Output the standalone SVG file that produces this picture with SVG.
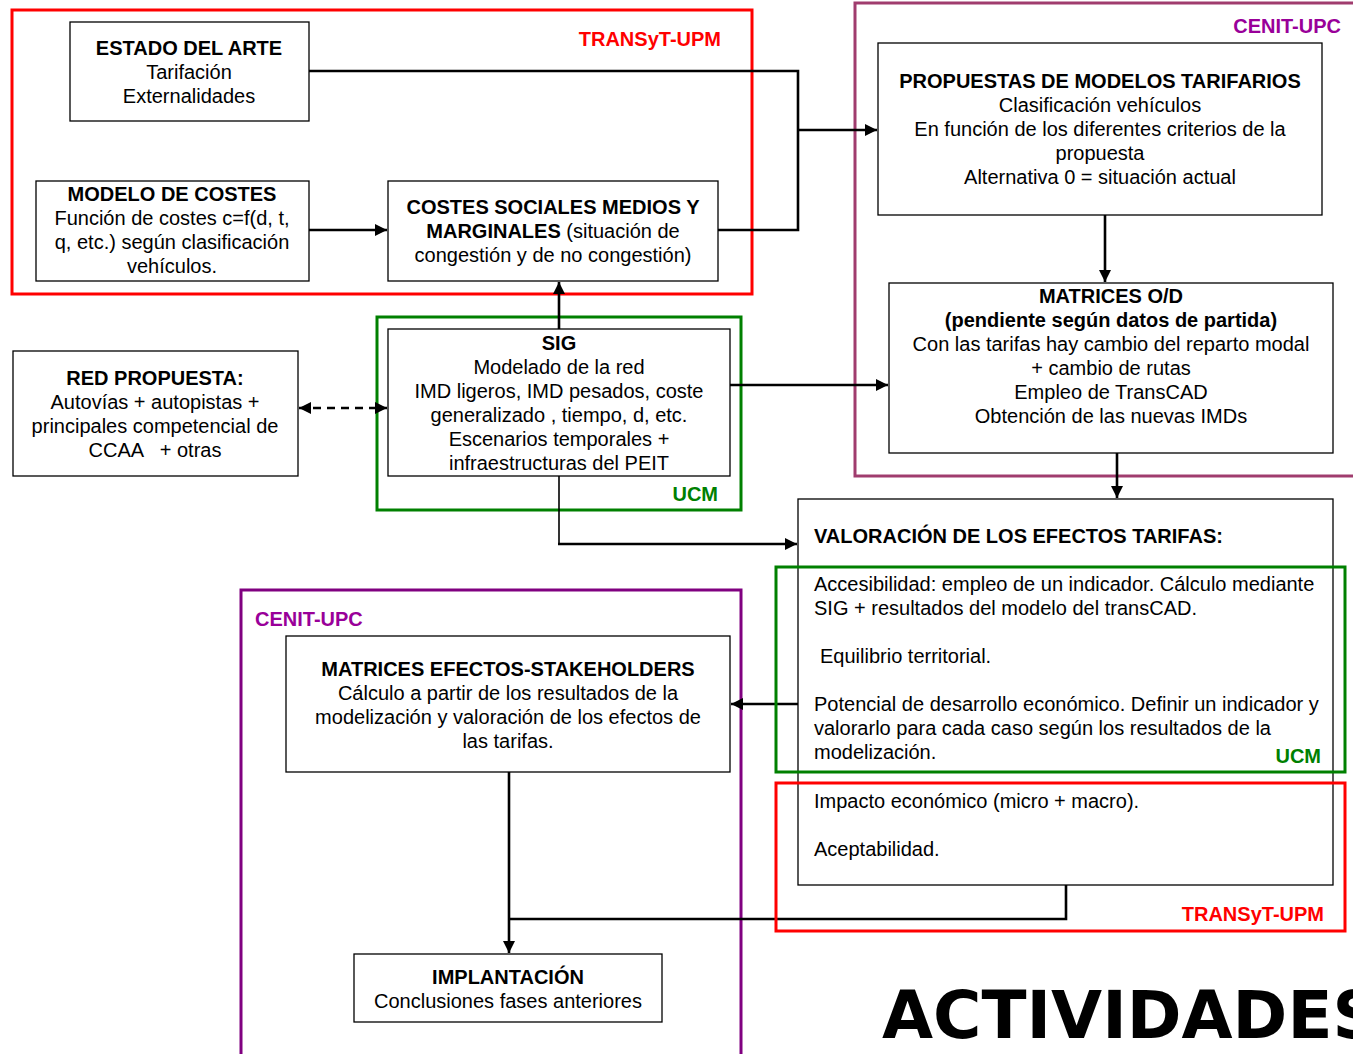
<svg xmlns="http://www.w3.org/2000/svg" width="1353" height="1054" viewBox="0 0 1353 1054">
  <defs>
    <style>
      .bg { fill: #ffffff; }
      .node { fill: #ffffff; stroke: #000000; stroke-width: 1.3; }
      .grp { fill: none; stroke-width: 3; }
      .red { stroke: #ff0000; }
      .green { stroke: #008000; }
      .plum { stroke: #a03c6e; }
      .purple { stroke: #800080; }
      text { font-family: "Liberation Sans", Arial, sans-serif; font-size: 20px; fill: #000000; }
      .c { text-anchor: middle; }
      .b { font-weight: bold; }
      .lbl { font-weight: bold; font-size: 20px; }
      .lred { fill: #ff0000; }
      .lgreen { fill: #008000; }
      .lpurple { fill: #990099; }
      .wire { fill: none; stroke: #000000; stroke-width: 2.6; }
      .thin { fill: none; stroke: #000000; stroke-width: 1.6; }
      .dash { fill: none; stroke: #000000; stroke-width: 2.6; stroke-dasharray: 8 6; }
      .big { font-family: "DejaVu Sans", Verdana, sans-serif; font-weight: bold; font-size: 66px; }
    </style>
    <marker id="arrow" viewBox="0 0 10 10" refX="10" refY="5" markerWidth="12" markerHeight="12" markerUnits="userSpaceOnUse" orient="auto-start-reverse">
      <path d="M0,0 L10,5 L0,10 Z" fill="#000000"/>
    </marker>
  </defs>

  <rect class="bg" x="0" y="0" width="1353" height="1054"/>

  <!-- group frames -->
  <g id="frames">
    <rect class="grp red" x="12" y="10" width="740" height="284"/>
    <rect class="grp plum" x="855" y="3" width="520" height="473"/>
    <rect class="grp green" x="377" y="317" width="364" height="193"/>
    <rect class="grp purple" x="241" y="590" width="500" height="480"/>
    <text class="lbl lred" x="721" y="46" text-anchor="end">TRANSyT-UPM</text>
    <text class="lbl lpurple" x="1341" y="33" text-anchor="end">CENIT-UPC</text>
    <text class="lbl lgreen" x="718" y="501" text-anchor="end">UCM</text>
    <text class="lbl lpurple" x="255" y="626">CENIT-UPC</text>
  </g>

  <!-- connectors -->
  <g id="connectors">
    <polyline class="wire" points="309,71 798,71 798,230 718,230"/>
    <line class="wire" x1="798" y1="130" x2="877" y2="130" marker-end="url(#arrow)"/>
    <line class="wire" x1="309" y1="230" x2="387" y2="230" marker-end="url(#arrow)"/>
    <line class="wire" x1="1105" y1="215" x2="1105" y2="282" marker-end="url(#arrow)"/>
    <line class="wire" x1="1117" y1="453" x2="1117" y2="498" marker-end="url(#arrow)"/>
    <line class="wire" x1="559" y1="329" x2="559" y2="282" marker-end="url(#arrow)"/>
    <line class="wire" x1="730" y1="385" x2="888" y2="385" marker-end="url(#arrow)"/>
    <line class="dash" x1="299" y1="408" x2="387" y2="408" marker-start="url(#arrow)" marker-end="url(#arrow)"/>
    <polyline class="thin" points="559,476 559,544"/>
    <line class="wire" x1="558" y1="544" x2="797" y2="544" marker-end="url(#arrow)"/>
    <line class="wire" x1="798" y1="704" x2="731" y2="704" marker-end="url(#arrow)"/>
    <polyline class="wire" points="1066,885 1066,919 509,919"/>
    <line class="wire" x1="509" y1="772" x2="509" y2="953" marker-end="url(#arrow)"/>
  </g>

  <!-- nodes -->
  <g id="estado-arte">
    <rect class="node" x="70" y="22" width="239" height="99"/>
    <text class="c b" x="189" y="55">ESTADO DEL ARTE</text>
    <text class="c" x="189" y="79">Tarifación</text>
    <text class="c" x="189" y="103">Externalidades</text>
  </g>

  <g id="modelo-costes">
    <rect class="node" x="36" y="181" width="273" height="100"/>
    <text class="c b" x="172" y="201">MODELO DE COSTES</text>
    <text class="c" x="172" y="225">Función de costes c=f(d, t,</text>
    <text class="c" x="172" y="249">q, etc.) según clasificación</text>
    <text class="c" x="172" y="273">vehículos.</text>
  </g>

  <g id="costes-sociales">
    <rect class="node" x="388" y="181" width="330" height="100"/>
    <text class="c b" x="553" y="214">COSTES SOCIALES MEDIOS Y</text>
    <text class="c" x="553" y="238"><tspan class="b">MARGINALES</tspan> (situación de</text>
    <text class="c" x="553" y="262">congestión y de no congestión)</text>
  </g>

  <g id="propuestas">
    <rect class="node" x="878" y="43" width="444" height="172"/>
    <text class="c b" x="1100" y="88">PROPUESTAS DE MODELOS TARIFARIOS</text>
    <text class="c" x="1100" y="112">Clasificación vehículos</text>
    <text class="c" x="1100" y="136">En función de los diferentes criterios de la</text>
    <text class="c" x="1100" y="160">propuesta</text>
    <text class="c" x="1100" y="184">Alternativa 0 = situación actual</text>
  </g>

  <g id="matrices-od">
    <rect class="node" x="889" y="283" width="444" height="170"/>
    <text class="c b" x="1111" y="303">MATRICES O/D</text>
    <text class="c b" x="1111" y="327">(pendiente según datos de partida)</text>
    <text class="c" x="1111" y="351">Con las tarifas hay cambio del reparto modal</text>
    <text class="c" x="1111" y="375">+ cambio de rutas</text>
    <text class="c" x="1111" y="399">Empleo de TransCAD</text>
    <text class="c" x="1111" y="423">Obtención de las nuevas IMDs</text>
  </g>

  <g id="red-propuesta">
    <rect class="node" x="13" y="351" width="285" height="125"/>
    <text class="c b" x="155" y="385">RED PROPUESTA:</text>
    <text class="c" x="155" y="409">Autovías + autopistas +</text>
    <text class="c" x="155" y="433">principales competencial de</text>
    <text class="c" x="155" y="457" xml:space="preserve">CCAA   + otras</text>
  </g>

  <g id="sig">
    <rect class="node" x="388" y="329" width="342" height="147"/>
    <text class="c b" x="559" y="350">SIG</text>
    <text class="c" x="559" y="374">Modelado de la red</text>
    <text class="c" x="559" y="398">IMD ligeros, IMD pesados, coste</text>
    <text class="c" x="559" y="422">generalizado , tiempo, d, etc.</text>
    <text class="c" x="559" y="446">Escenarios temporales +</text>
    <text class="c" x="559" y="470">infraestructuras del PEIT</text>
  </g>

  <g id="valoracion">
    <rect class="node" x="798" y="499" width="535" height="386"/>
    <text class="b" x="814" y="543">VALORACIÓN DE LOS EFECTOS TARIFAS:</text>
    <text x="814" y="591">Accesibilidad: empleo de un indicador. Cálculo mediante</text>
    <text x="814" y="615">SIG + resultados del modelo del transCAD.</text>
    <text x="820" y="663">Equilibrio territorial.</text>
    <text x="814" y="711">Potencial de desarrollo económico. Definir un indicador y</text>
    <text x="814" y="735">valorarlo para cada caso según los resultados de la</text>
    <text x="814" y="759">modelización.</text>
    <text x="814" y="808">Impacto económico (micro + macro).</text>
    <text x="814" y="856">Aceptabilidad.</text>
  </g>

  <!-- frames drawn over the evaluation box -->
  <g id="eval-frames">
    <rect class="grp green" x="776" y="567" width="569" height="205"/>
    <rect class="grp red" x="776" y="783" width="569" height="148"/>
    <text class="lbl lgreen" x="1321" y="763" text-anchor="end">UCM</text>
    <text class="lbl lred" x="1324" y="921" text-anchor="end">TRANSyT-UPM</text>
  </g>

  <g id="matrices-efectos">
    <rect class="node" x="286" y="636" width="444" height="136"/>
    <text class="c b" x="508" y="676">MATRICES EFECTOS-STAKEHOLDERS</text>
    <text class="c" x="508" y="700">Cálculo a partir de los resultados de la</text>
    <text class="c" x="508" y="724">modelización y valoración de los efectos de</text>
    <text class="c" x="508" y="748">las tarifas.</text>
  </g>

  <g id="implantacion">
    <rect class="node" x="354" y="954" width="308" height="68"/>
    <text class="c b" x="508" y="984">IMPLANTACIÓN</text>
    <text class="c" x="508" y="1008">Conclusiones fases anteriores</text>
  </g>

  <text class="big" x="882" y="1038">ACTIVIDADES</text>
</svg>
